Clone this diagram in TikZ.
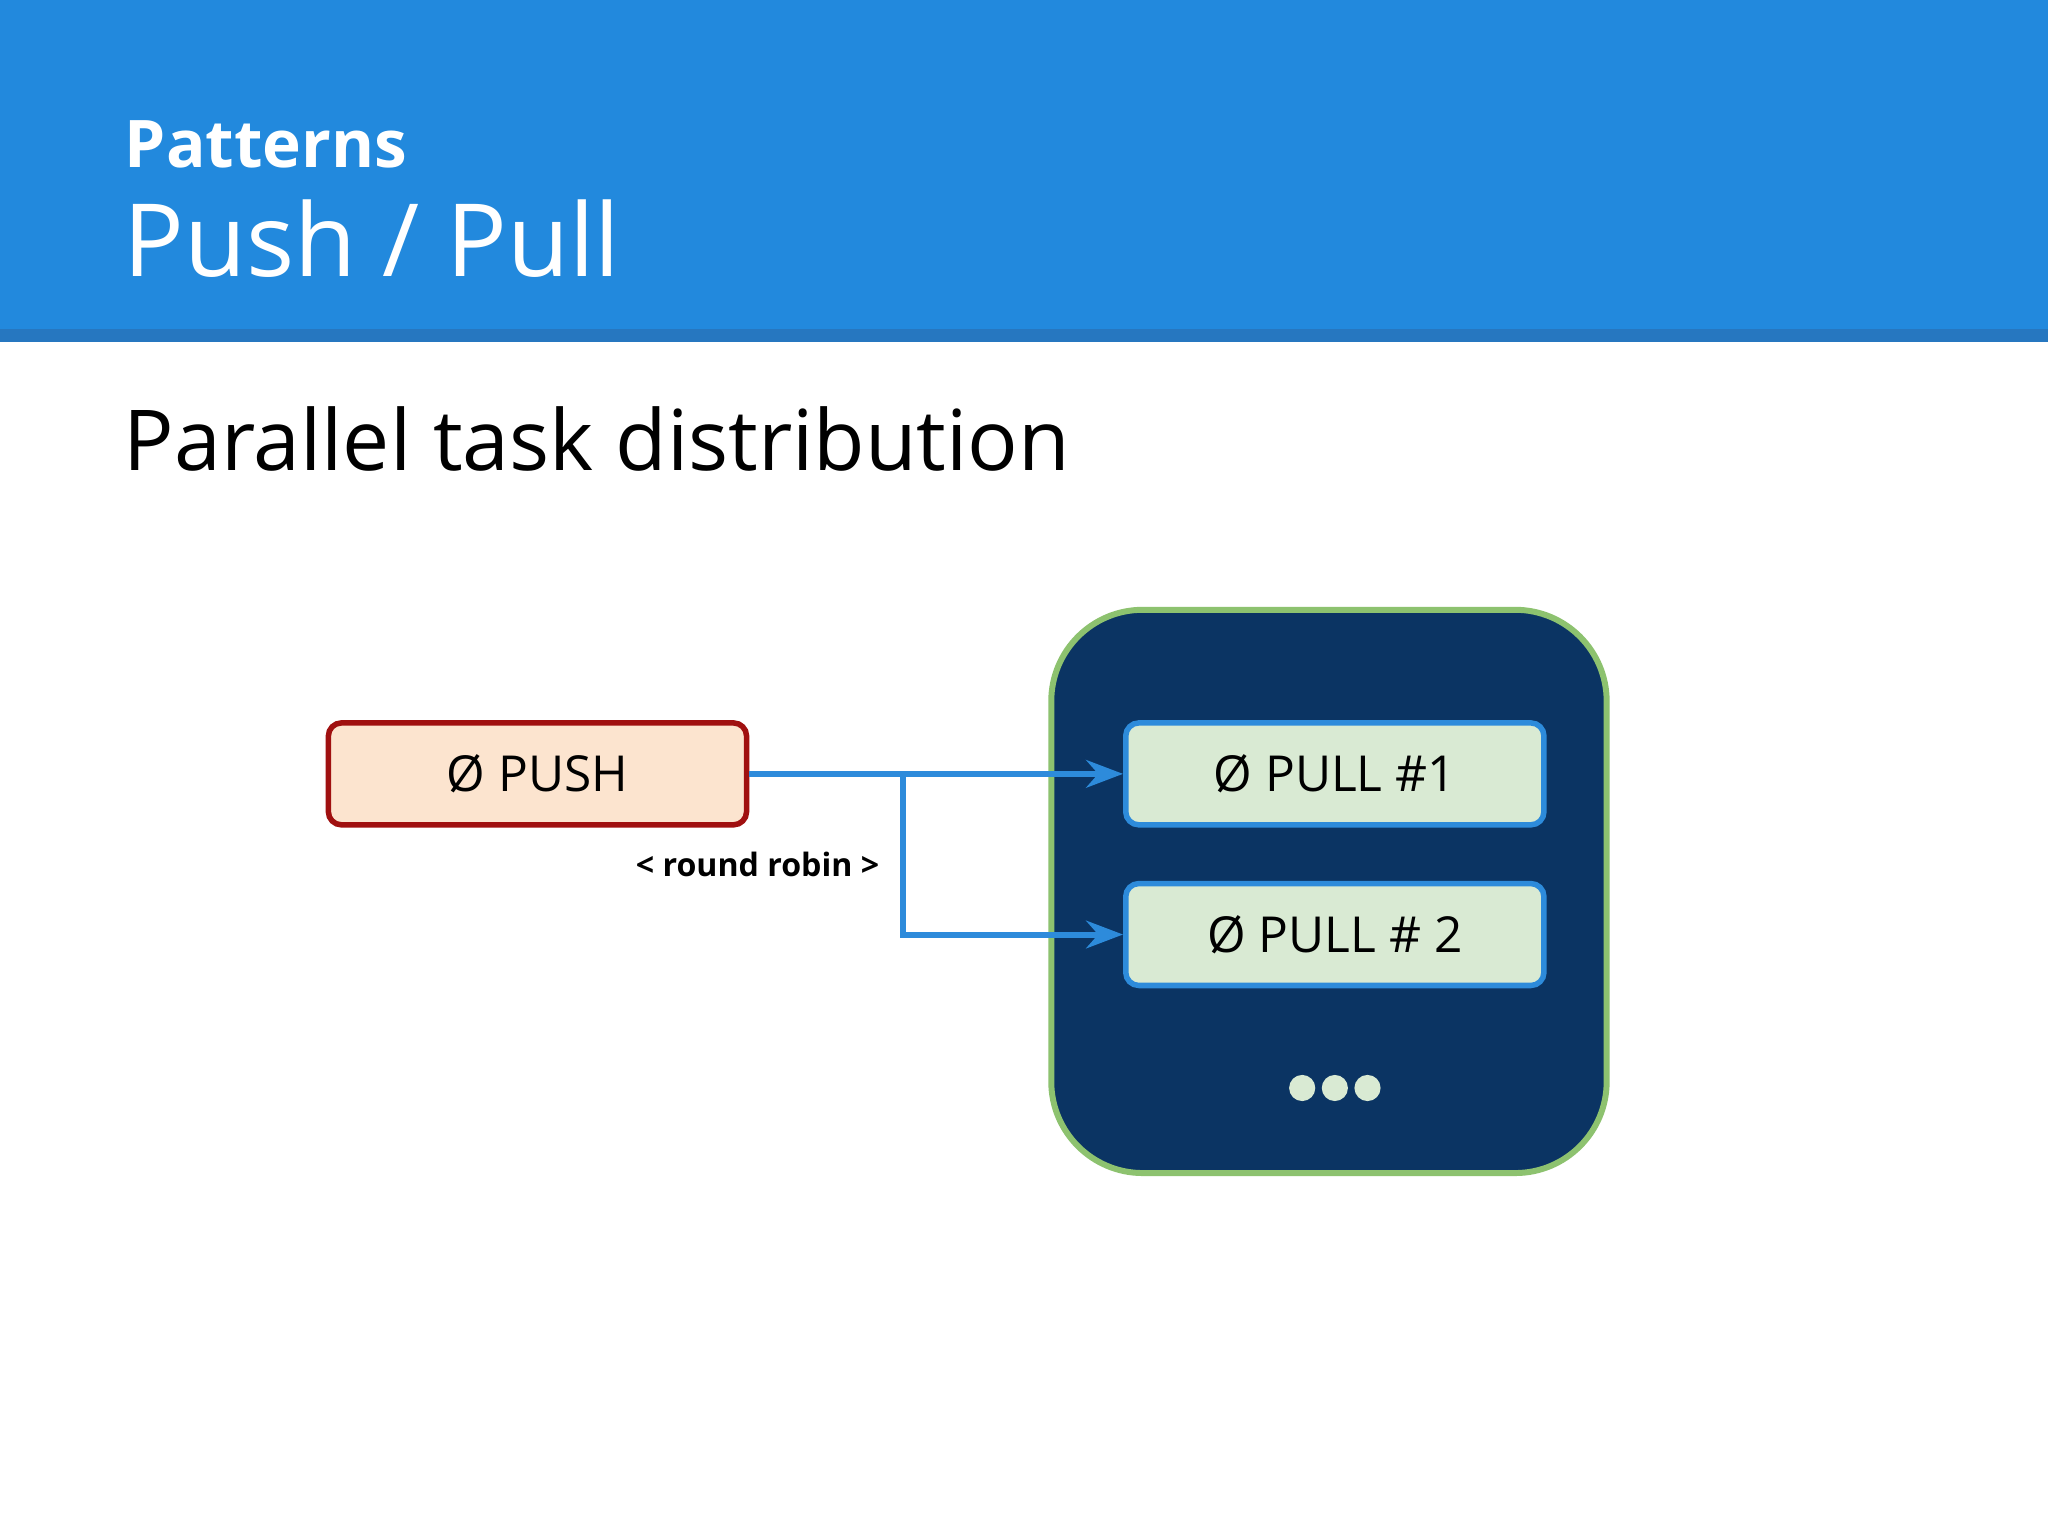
\documentclass[tikz,border=0pt]{standalone}
\usepackage{fontspec}
\setmainfont{Open Sans}
\usetikzlibrary{arrows.meta}
\definecolor{hdr}{HTML}{2289DD}
\definecolor{hdrs}{HTML}{2677C0}
\definecolor{cont}{HTML}{0B3463}
\definecolor{contb}{HTML}{8DC26F}
\definecolor{pushf}{HTML}{FCE4CF}
\definecolor{pushd}{HTML}{A01010}
\definecolor{pullf}{HTML}{D9EAD3}
\definecolor{arr}{HTML}{2D8BDB}
\tikzset{
  box/.style={draw, line width=1.2pt, rounded corners=0.1cm, minimum width=3.2cm, minimum height=0.78cm, font=\fontsize{10.8}{13}\selectfont, inner sep=0pt},
  pull/.style={box, fill=pullf, draw=arr},
  conn/.style={draw=arr, line width=1.3pt},
  dot/.style={circle, fill=pullf, minimum size=0.2cm, inner sep=0pt}
}
\begin{document}
\begin{tikzpicture}[x=0.01cm,y=-0.01cm]
\useasboundingbox (0,0) rectangle (1568,1176);
\fill[white] (0,0) rectangle (1568,1176);
\fill[hdr] (0,0) rectangle (1568,252);
\fill[hdrs] (0,252) rectangle (1568,262);
\node[anchor=base west, text=white, font=\bfseries\fontsize{14.3}{17}\selectfont, inner sep=0pt] (t1) at (95,128) {Patterns};
\node[anchor=base west, text=white, font=\fontsize{22}{26}\selectfont, inner sep=0pt] (t2) at (94,212) {Push / Pull};
\node[anchor=base west, font=\fontsize{18.3}{22}\selectfont, inner sep=0pt] (t3) at (94,360) {Parallel task distribution};
\node[draw=contb, fill=cont, line width=1.3pt, rounded corners=0.7cm, minimum width=4.25cm, minimum height=4.31cm] (c) at (1017.5,682.5) {};
\node[box, fill=pushf, draw=pushd] (push) at (411.5,592.5) {Ø PUSH};
\node[pull] (p1) at (1022,592.5) {Ø PULL \#1};
\node[pull] (p2) at (1022,715.5) {Ø PULL \# 2};
\node[dot] (d1) at (997,833) {};
\node[dot] (d2) at (1022,833) {};
\node[dot] (d3) at (1047,833) {};
\coordinate (br) at (691,592.5);
\draw[conn, -{Stealth[length=8pt,width=6pt]}] (push.east) -- (p1.west);
\draw[conn, -{Stealth[length=8pt,width=6pt]}] (br) -- (br |- p2.west) -- (p2.west);
\node[font=\bfseries\fontsize{7}{9}\selectfont] (rr) at (580,662) {< round robin >};
\end{tikzpicture}
\end{document}
